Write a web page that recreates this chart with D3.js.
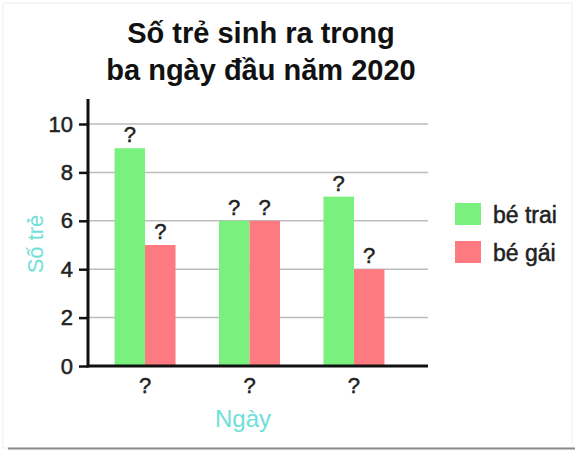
<!DOCTYPE html>
<html>
<head>
<meta charset="utf-8">
<script src="https://cdn.jsdelivr.net/npm/d3@7"></script>
<style>
  body { margin: 0; background: #fff; }
  svg { display: block; font-family: "Liberation Sans", Arial, sans-serif; }
  .heavy { stroke: #222; stroke-width: 0.5px; }
</style>
</head>
<body>
<svg width="575" height="450"></svg>
<script>
// data
var days = ["?", "?", "?"];
var series = ["bé trai", "bé gái"];
var boys = [9, 6, 7];
var girls = [5, 6, 4];
var valueLabels = ["?", "?"];
var yTicks = [0, 2, 4, 6, 8, 10];
var titleLines = ["Số trẻ sinh ra trong", "ba ngày đầu năm 2020"];
var colors = ["#7af07f", "#fd7a80"];

var width = 575, height = 450;
var svg = d3.select("svg");

// card frame
svg.append("rect")
    .attr("x", 3).attr("y", 3)
    .attr("width", width - 6).attr("height", height - 5)
    .attr("fill", "#fff")
    .attr("stroke", "#eeeeee");
svg.append("line")
    .attr("x1", 8).attr("x2", width)
    .attr("y1", 448.5).attr("y2", 448.5)
    .attr("stroke", "#8a8a8a").attr("stroke-width", 2);

var plotL = 88, plotR = 428, plotT = 99, plotB = 366;

var y = d3.scaleLinear().domain([0, 10]).range([plotB, 124]);
var x0 = d3.scaleBand().domain(d3.range(days.length))
    .range([plotL, 411]).paddingInner(0.416).paddingOuter(0.254);
var x1 = d3.scaleBand().domain(d3.range(series.length))
    .range([0, x0.bandwidth()]);

// grid
svg.append("g").selectAll("line")
  .data(yTicks.filter(function(d) { return d > 0; }))
  .enter().append("line")
    .attr("x1", plotL).attr("x2", plotR)
    .attr("y1", function(d) { return y(d); })
    .attr("y2", function(d) { return y(d); })
    .attr("stroke", "#bdbdbd").attr("stroke-width", 1.5);

// bars
var rows = days.map(function(d, i) { return [boys[i], girls[i]]; });
var grp = svg.append("g").selectAll("g")
  .data(rows)
  .enter().append("g")
    .attr("transform", function(d, i) { return "translate(" + x0(i) + ",0)"; });

grp.selectAll("rect")
  .data(function(d) { return d; })
  .enter().append("rect")
    .attr("x", function(d, j) { return x1(j); })
    .attr("y", function(d) { return y(d); })
    .attr("width", x1.bandwidth())
    .attr("height", function(d) { return plotB - y(d); })
    .attr("fill", function(d, j) { return colors[j]; });

grp.selectAll("text")
  .data(function(d) { return d; })
  .enter().append("text")
    .attr("class", "heavy")
    .attr("x", function(d, j) { return x1(j) + x1.bandwidth() / 2; })
    .attr("y", function(d) { return y(d) - 6; })
    .attr("text-anchor", "middle")
    .attr("font-size", 22)
    .attr("fill", "#222")
    .text(function(d, j) { return valueLabels[j]; });

// y axis
var yAxis = svg.append("g")
    .attr("transform", "translate(" + plotL + ",0)")
    .call(d3.axisLeft(y).tickValues(yTicks).tickSize(9).tickPadding(6));
yAxis.select(".domain").remove();
yAxis.selectAll(".tick line").attr("stroke", "#111").attr("stroke-width", 2.5);
yAxis.selectAll(".tick text")
    .attr("class", "heavy")
    .attr("font-size", 22).attr("fill", "#222")
    .attr("font-family", "Liberation Sans, Arial, sans-serif");
svg.append("line")
    .attr("x1", plotL).attr("x2", plotL)
    .attr("y1", plotT).attr("y2", plotB + 1.5)
    .attr("stroke", "#111").attr("stroke-width", 3);

// x axis
svg.append("line")
    .attr("x1", plotL).attr("x2", plotR)
    .attr("y1", plotB).attr("y2", plotB)
    .attr("stroke", "#111").attr("stroke-width", 3);
svg.append("g").selectAll("text")
  .data(days)
  .enter().append("text")
    .attr("class", "heavy")
    .attr("x", function(d, i) { return x0(i) + x0.bandwidth() / 2; })
    .attr("y", 393)
    .attr("text-anchor", "middle")
    .attr("font-size", 22)
    .attr("fill", "#222")
    .text(function(d) { return d; });

// axis titles
svg.append("text")
    .attr("x", 243).attr("y", 427)
    .attr("text-anchor", "middle")
    .attr("font-size", 24)
    .attr("fill", "#6fe0d8")
    .text("Ngày");
svg.append("text")
    .attr("transform", "translate(43,244) rotate(-90)")
    .attr("text-anchor", "middle")
    .attr("font-size", 22)
    .attr("fill", "#6fe0d8")
    .text("Số trẻ");

// title
svg.append("g").selectAll("text")
  .data(titleLines)
  .enter().append("text")
    .attr("x", 261)
    .attr("y", function(d, i) { return 43 + i * 37; })
    .attr("text-anchor", "middle")
    .attr("font-size", 29)
    .attr("font-weight", "bold")
    .attr("fill", "#111")
    .text(function(d) { return d; });

// legend
var lg = svg.append("g").selectAll("g")
  .data(series)
  .enter().append("g")
    .attr("transform", function(d, i) { return "translate(455," + (203 + i * 38) + ")"; });
lg.append("rect")
    .attr("width", 26).attr("height", 22)
    .attr("fill", function(d, i) { return colors[i]; });
lg.append("text")
    .attr("class", "heavy")
    .attr("x", 38).attr("y", 20)
    .attr("font-size", 23)
    .attr("fill", "#222")
    .text(function(d) { return d; });
</script>
</body>
</html>
